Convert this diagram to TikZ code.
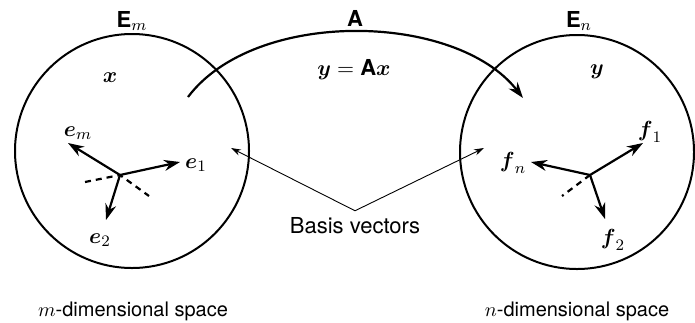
\documentclass[tikz,border=0pt]{standalone}
\usepackage{amsmath,amssymb}
\usepackage{fontspec}
\setmainfont{TeX Gyre Heros}
\usepackage{tikz}
\usetikzlibrary{arrows.meta}

\begin{document}
\begin{tikzpicture}[x=0.5pt,y=-0.5pt,
    every node/.style={font=\fontsize{11}{13}\selectfont},
    space/.style={draw,circle,line width=1pt,minimum size=117pt,inner sep=0pt},
    dimlabel/.style={font=\fontsize{10}{12}\selectfont},
    vec/.style={-{Stealth[length=8pt,width=5.5pt]},line width=1.1pt},
    back/.style={line width=1.1pt,dash pattern=on 3pt off 2.5pt},
    lead/.style={-{Stealth[length=5pt,width=3.2pt]},line width=0.45pt}]
  \useasboundingbox (0,0) rectangle (695,322);
  % the two spaces
  \node[space] (Em) at (132,151) {};
  \node[space] (En) at (577,152) {};
  \node (EmLab) at (132,21) {\textbf{E}$_m$};
  \node (EnLab) at (579,21) {\textbf{E}$_n$};
  \node[dimlabel] (mdim) at (133,311) {$m$-dimensional space};
  \node[dimlabel] (ndim) at (577,311) {$n$-dimensional space};
  % the map
  \node (ALab) at (355,18) {\textbf{A}};
  \node (yAx) at (354,70) {$\boldsymbol{y} = \textbf{A}\boldsymbol{x}$};
  \node (xLab) at (110,78) {$\boldsymbol{x}$};
  \node (yLab) at (597,72) {$\boldsymbol{y}$};
  \coordinate (arcS) at (188,97);
  \coordinate (arcE) at (523,98);
  \draw[vec] (arcS) .. controls (255,8) and (456,12) .. (arcE);
  % basis of E_m
  \coordinate (o1) at (120,175);
  \coordinate (em) at (68,143);
  \coordinate (e1) at (180,162);
  \coordinate (e2) at (106,220);
  \coordinate (d1) at (85,182);
  \coordinate (d2) at (149,196);
  \draw[back] (d1) -- (o1) -- (d2);
  \draw[vec] (o1) -- (em); \draw[vec] (o1) -- (e1); \draw[vec] (o1) -- (e2);
  \node (emLab) at (78,133) {$\boldsymbol{e}_m$};
  \node (e1Lab) at (196,165) {$\boldsymbol{e}_1$};
  \node (e2Lab) at (100,240) {$\boldsymbol{e}_2$};
  % basis of E_n
  \coordinate (o2) at (590,175);
  \coordinate (f1) at (643,143);
  \coordinate (fn) at (531,162);
  \coordinate (f2) at (605,219);
  \coordinate (d3) at (562,196);
  \draw[back] (o2) -- (d3);
  \draw[vec] (o2) -- (f1); \draw[vec] (o2) -- (fn); \draw[vec] (o2) -- (f2);
  \node (f1Lab) at (650,132) {$\boldsymbol{f}_1$};
  \node (fnLab) at (513,163) {$\boldsymbol{f}_n$};
  \node (f2Lab) at (613,240) {$\boldsymbol{f}_2$};
  % leader
  \node (basis) at (355,226) {Basis vectors};
  \coordinate (tipL) at (231,148);
  \coordinate (tipR) at (484,148);
  \draw[lead] (basis.north) -- (tipL);
  \draw[lead] (basis.north) -- (tipR);
\end{tikzpicture}
\end{document}
